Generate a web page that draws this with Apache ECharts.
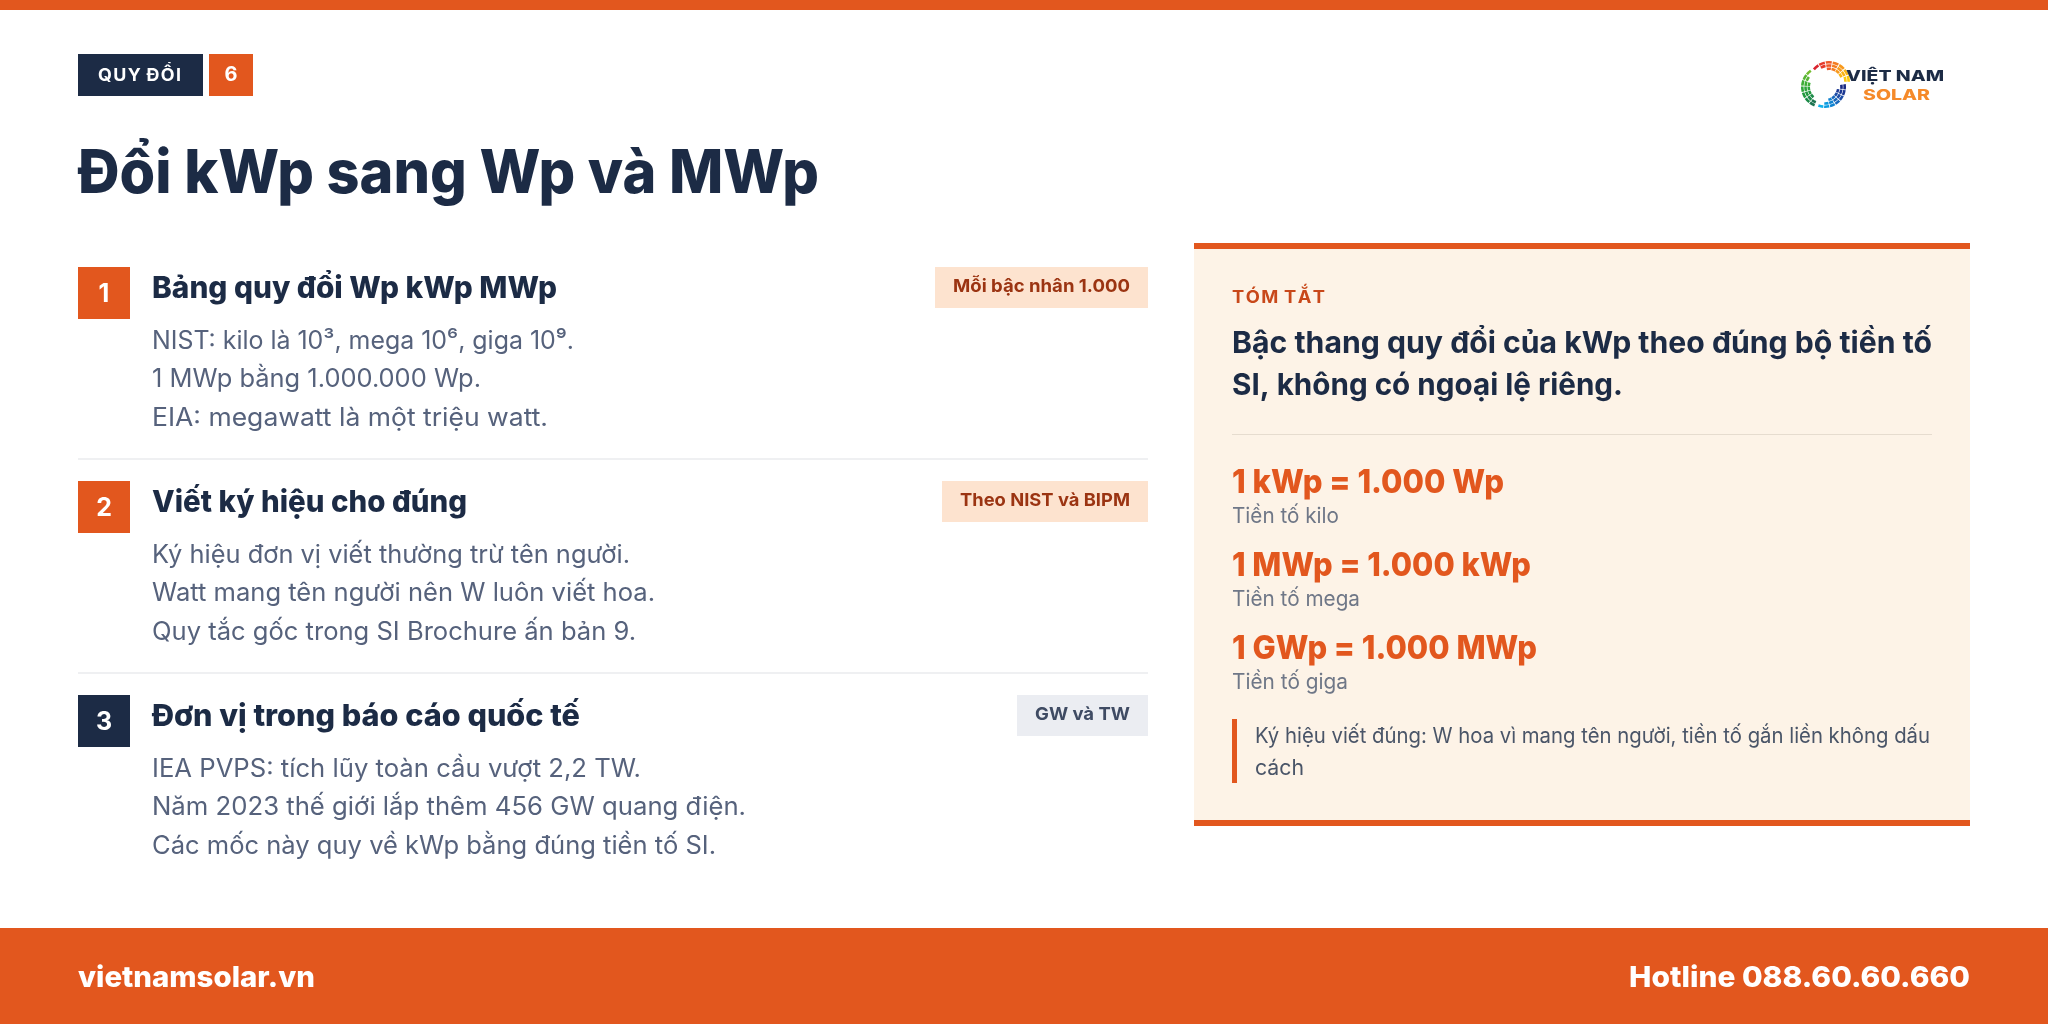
<!DOCTYPE html>
<html lang="vi">
<head>
    <meta charset="UTF-8">
    <title>Đổi kWp sang Wp và MWp</title>
    <script src="https://cdn.jsdelivr.net/npm/echarts@6/dist/echarts.min.js"></script>
    <style>html,body{margin:0;padding:0;background:#fff}</style>
</head>
<body>
<div id="main" style="width:2048px;height:1024px;"></div>
<script>
    const tagText = 'Q\u200AU\u200AY\u200A Đ\u200AỔ\u200AI';
    const tagNumber = '6';
    const titleText = 'Đổi kWp sang Wp và MWp';
    const rowNumbers = ['1', '2', '3'];
    const rowHeads = ['Bảng quy đổi Wp kWp MWp', 'Viết ký hiệu cho đúng', 'Đơn vị trong báo cáo quốc tế'];
    const rowPills = ['Mỗi bậc nhân 1.000', 'Theo NIST và BIPM', 'GW và TW'];
    const rowLines1 = ['NIST: kilo là 10³, mega 10⁶, giga 10⁹.', '1 MWp bằng 1.000.000 Wp.', 'EIA: megawatt là một triệu watt.'];
    const rowLines2 = ['Ký hiệu đơn vị viết thường trừ tên người.', 'Watt mang tên người nên W luôn viết hoa.', 'Quy tắc gốc trong SI Brochure ấn bản 9.'];
    const rowLines3 = ['IEA PVPS: tích lũy toàn cầu vượt 2,2 TW.', 'Năm 2023 thế giới lắp thêm 456 GW quang điện.', 'Các mốc này quy về kWp bằng đúng tiền tố SI.'];
    const summaryLabel = 'T\u200AÓ\u200AM\u200A T\u200AẮ\u200AT';
    const summaryLines = ['Bậc thang quy đổi của kWp theo đúng bộ tiền tố', 'SI, không có ngoại lệ riêng.'];
    const convLines = ['1 kWp = 1.000 Wp', '1 MWp = 1.000 kWp', '1 GWp = 1.000 MWp'];
    const convNotes = ['Tiền tố kilo', 'Tiền tố mega', 'Tiền tố giga'];
    const noteLines = ['Ký hiệu viết đúng: W hoa vì mang tên người, tiền tố gắn liền không dấu', 'cách'];
    const footerLeft = 'vietnamsolar.vn';
    const footerRight = 'Hotline 088.60.60.660';
    const logoTop = 'VIỆT NAM';
    const logoBottom = 'SOLAR';
    const logoWarm = ['#d9232e', '#e63a2a', '#ee5a28', '#f47c22', '#f89a1c', '#fbb414', '#fdc90e'];
    const logoCool = ['#0fb0ea', '#0a9be0', '#0f82d0', '#1666bb', '#1b4ca6', '#1c3892', '#1a2a80'];
    const logoGreen = ['#1d7450', '#1c8a48', '#22983f', '#2ea53a', '#3fae38', '#56b534', '#72bd30'];

    // text widths
    const headWidths = [405, 315, 428];
    const lineWidths = [[422, 329, 396], [478, 503, 484], [489, 594, 564]];
    const pillWidths = [177, 170, 95];
    const summaryWidths = [700, 391];
    const convWidths = [272, 299, 305];
    const noteWidths = [107, 128, 116];
    const calloutWidths = [675, 49];

    const orange = '#e2571e', navy = '#1c2b45', body = '#56627c';
    const font = 'Inter';
    const els = [];
    const measure = document.createElement('canvas').getContext('2d');

    function rect(x, y, w, h, fill) {
        els.push({type: 'rect', shape: {x: x, y: y, width: w, height: h}, style: {fill: fill}, silent: true});
    }

    function label(text, x, y, size, weight, color, align, width) {
        const f = weight + ' ' + size + 'px ' + font;
        measure.font = f;
        els.push({
            type: 'text', x: x, y: y, silent: true,
            scaleX: width ? width / measure.measureText(text).width : 1,
            style: {
                text: text, fill: color, font: f,
                textAlign: align || 'left', textVerticalAlign: 'middle'
            }
        });
    }

    // top and footer bands
    rect(0, 0, 2048, 10, orange);
    rect(0, 928, 2048, 96, orange);
    label(footerLeft, 78, 978, 29, 800, '#fff', 'left', 237);
    label(footerRight, 1970, 978, 29, 800, '#fff', 'right', 341);

    // tag + title
    rect(78, 54, 125, 42, navy);
    rect(209, 54, 44, 42, orange);
    label(tagText, 98, 76, 17, 700, '#fff', 'left', 83);
    label(tagNumber, 231, 75, 20, 700, '#fff', 'center');
    label(titleText, 78, 175, 60, 800, navy, 'left', 741);

    // left rows
    const rowTop = [267, 481, 695];
    const boxColors = [orange, orange, navy];
    const pillX = [935, 942, 1017];
    const pillFill = ['#fde3cf', '#fde3cf', '#ebedf2'];
    const pillInk = ['#9b3412', '#9b3412', '#3f4b63'];
    [rowLines1, rowLines2, rowLines3].forEach(function (lines, i) {
        const t = rowTop[i];
        rect(78, t, 52, 52, boxColors[i]);
        label(rowNumbers[i], 104, t + 27, 25, 700, '#fff', 'center');
        label(rowHeads[i], 152, t + 22, 30, 800, navy, 'left', headWidths[i]);
        rect(pillX[i], t, 1148 - pillX[i], 41, pillFill[i]);
        label(rowPills[i], 1130, t + 20, 18, 700, pillInk[i], 'right', pillWidths[i]);
        lines.forEach(function (line, k) {
            label(line, 152, t + 74 + k * 38.6, 25, 400, body, 'left', lineWidths[i][k]);
        });
        if (i < 2) rect(78, t + 191, 1070, 2, '#eff0f2');
    });

    // summary panel
    rect(1194, 243, 776, 583, '#fdf3e7');
    rect(1194, 243, 776, 6, orange);
    rect(1194, 820, 776, 6, orange);
    label(summaryLabel, 1232, 298, 17, 700, '#c8481a', 'left', 93);
    summaryLines.forEach(function (line, k) {
        label(line, 1232, 344 + k * 42, 30, 700, navy, 'left', summaryWidths[k]);
    });
    rect(1232, 434, 700, 1, '#e6dccf');
    convLines.forEach(function (line, k) {
        label(line, 1232, 483 + k * 83, 33, 800, orange, 'left', convWidths[k]);
        label(convNotes[k], 1232, 517 + k * 83, 21, 400, '#6f7787', 'left', noteWidths[k]);
    });
    rect(1232, 719, 5, 64, orange);
    noteLines.forEach(function (line, k) {
        label(line, 1255, 737 + k * 32, 21, 400, '#4a5568', 'left', calloutWidths[k]);
    });

    // logo: three arcs of small solar cells, thinner towards one end
    function logoArc(colors, rows, cx, cy, from, to) {
        const step = (to - from) / colors.length * Math.PI / 180;
        colors.forEach(function (c, a) {
            const a0 = from * Math.PI / 180 + a * step;
            for (let r = 0; r < rows[a]; r++) {
                els.push({
                    type: 'sector', silent: true,
                    shape: {
                        cx: cx, cy: cy, r0: 18.4 - r * 3.2, r: 21 - r * 3.2,
                        startAngle: a0, endAngle: a0 + step * 0.86
                    },
                    style: {fill: c}
                });
            }
        });
    }
    logoArc(logoWarm, [1, 2, 3, 3, 3, 3, 2], 1829, 82, -140, 2);
    logoArc(logoCool.slice().reverse(), [2, 3, 3, 3, 3, 2, 1], 1825, 87, -8, 112);
    logoArc(logoGreen, [2, 3, 3, 3, 3, 2, 1], 1822, 87, 112, 238);
    label(logoTop, 1846, 76, 15, 800, navy, 'left', 98);
    label(logoBottom, 1863, 96, 14, 800, '#f58a2a', 'left', 67);

    const chart = echarts.init(document.getElementById('main'));
    chart.setOption({
        backgroundColor: '#fff',
        animation: false,
        graphic: {elements: els}
    });
</script>
</body>
</html>
